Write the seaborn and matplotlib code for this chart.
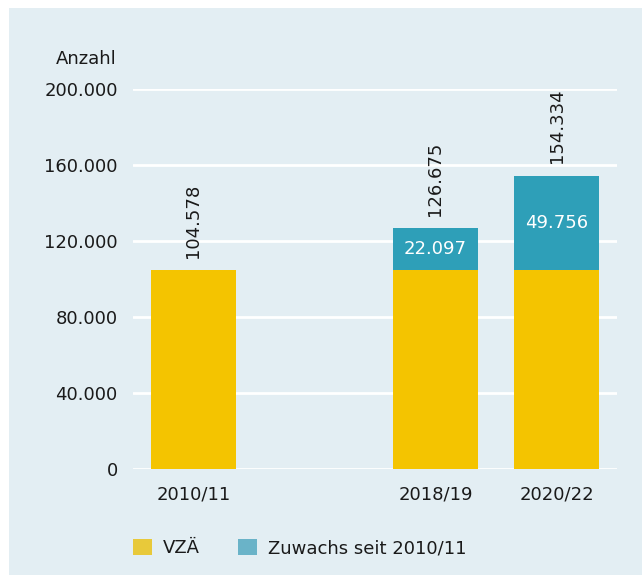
import matplotlib
matplotlib.use("Agg")
import matplotlib.pyplot as plt
from matplotlib.patches import Rectangle, Patch
import seaborn as sns
import pandas as pd

# ---- data ----
categories = ["2010/11", "2018/19", "2020/22"]
order = ["2010/11", " ", "2018/19", "2020/22"]   # blank slot between 2010/11 and 2018/19
vza = [104578, 104578, 104578]
zuwachs = [0, 22097, 49756]
total = [104578, 126675, 154334]
y_ticks = [0, 40000, 80000, 120000, 160000, 200000]
y_ticklabels = ["0", "40.000", "80.000", "120.000", "160.000", "200.000"]
legend_labels = ["VZÄ", "Zuwachs seit 2010/11"]

df = pd.DataFrame({"Jahr": categories, "VZA": vza, "Zuwachs": zuwachs, "Gesamt": total})

def fmt(v):
    return f"{v:,}".replace(",", ".")

# ---- style ----
BG = "#e3eef3"
YELLOW = "#f4c400"
TEAL = "#2e9fb8"
LEG_YELLOW = "#e8c93a"
LEG_TEAL = "#6ab3c8"
TXT = "#1a1a1a"

sns.set_theme(style="white")
plt.rcParams["font.family"] = ["DejaVu Sans"]

fig = plt.figure(figsize=(6.42, 5.77), dpi=100, facecolor="white")
fig.patches.append(Rectangle((9 / 642, 2 / 577), 1 - 9 / 642, 1 - 10 / 577,
                             transform=fig.transFigure, facecolor=BG,
                             edgecolor="none", zorder=-10))
ax = fig.add_axes([133 / 642, 1 - 469 / 577, (617 - 133) / 642, (469 - 89) / 577])
ax.set_facecolor(BG)
ax.patch.set_alpha(0)

sns.barplot(data=df, x="Jahr", y="Gesamt", order=order, color=TEAL,
            saturation=1, width=0.71, edgecolor="none", linewidth=0, ax=ax, zorder=3)
sns.barplot(data=df, x="Jahr", y="VZA", order=order, color=YELLOW,
            saturation=1, width=0.71, edgecolor="none", linewidth=0, ax=ax, zorder=4)

ax.set_ylim(0, 200000)
ax.set_xlim(-0.5, 3.5)
ax.set_yticks(y_ticks)
ax.set_yticklabels(y_ticklabels)
ax.grid(axis="y", color="white", linewidth=2)
ax.grid(axis="x", visible=False)
ax.set_axisbelow(True)
for s in ax.spines.values():
    s.set_visible(False)
ax.tick_params(axis="y", length=0, pad=11, labelsize=13, labelcolor=TXT)
ax.tick_params(axis="x", length=0, pad=12, labelsize=13, labelcolor=TXT)
ax.set_xlabel("")
ax.set_ylabel("")

# annotations
for cat, tot, zw in zip(categories, total, zuwachs):
    xi = order.index(cat)
    ax.annotate(fmt(tot), xy=(xi, tot), xytext=(0, 9), textcoords="offset points",
                rotation=90, ha="center", va="bottom", fontsize=13, color=TXT,
                zorder=6)
    if zw > 0:
        ax.text(xi, tot - zw / 2, fmt(zw), ha="center", va="center",
                fontsize=13, color="white", zorder=6)

fig.text(117 / 642, 1 - 59 / 577, "Anzahl", ha="right", va="center",
         fontsize=13, color=TXT)

handles = [Patch(facecolor=LEG_YELLOW, edgecolor="none"),
           Patch(facecolor=LEG_TEAL, edgecolor="none")]
fig.legend(handles, legend_labels, loc="center left",
           bbox_to_anchor=(117 / 642, 1 - 548 / 577), ncol=2, frameon=False,
           fontsize=13, handlelength=1.05, handleheight=1.05,
           handletextpad=0.6, columnspacing=2.1, labelcolor=TXT)

fig.savefig("out.png", dpi=100, facecolor="white")
